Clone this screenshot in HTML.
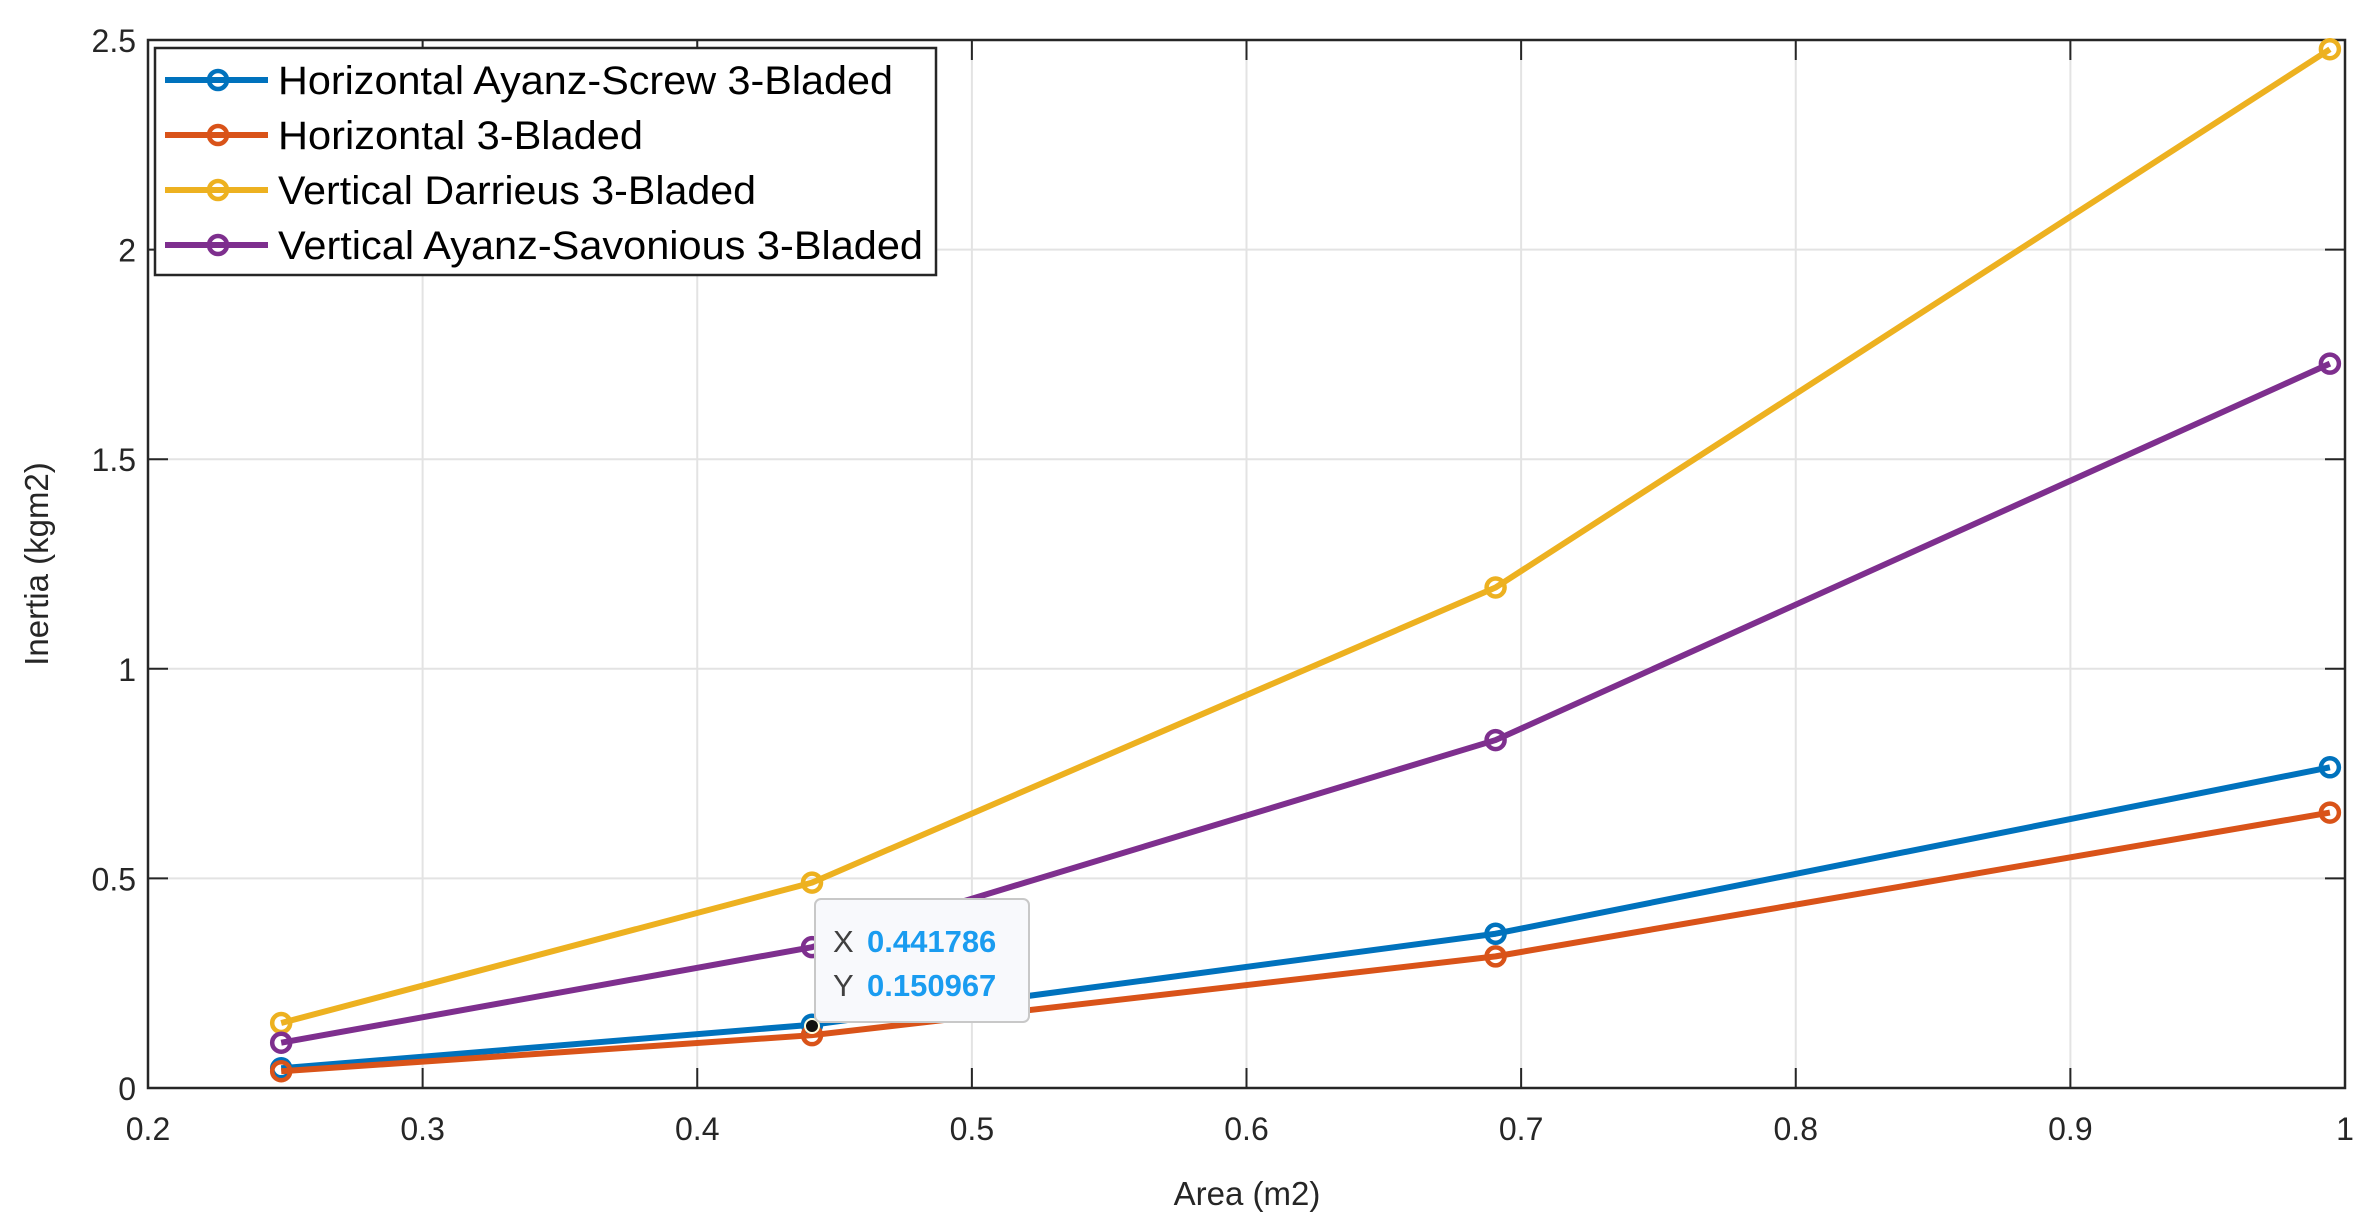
<!DOCTYPE html>
<html><head><meta charset="utf-8"><style>
body{margin:0;background:#fff}
svg{display:block;font-family:"Liberation Sans",sans-serif}
</style></head><body>
<svg id="chart" width="2368" height="1227" viewBox="0 0 2368 1227">
<rect x="0" y="0" width="2368" height="1227" fill="#fff"/>
<g id="grid"></g>
<g id="axes"></g>
<g id="series"></g>
<text x="1247" y="1205" font-size="33" fill="#262626" text-anchor="middle">Area (m2)</text>
<text transform="translate(48,564) rotate(-90)" font-size="33" fill="#262626" text-anchor="middle">Inertia (kgm2)</text>
<g id="legend"></g>
<g id="datatip">
<circle cx="812" cy="1026" r="7" fill="#111" stroke="#ffffe0" stroke-width="2"/>
<rect x="815" y="899" width="214" height="123" rx="6" fill="#f8f9fc" stroke="#c8c8c8" stroke-width="2"/>
<text x="833" y="952" font-size="31" fill="#404040">X</text>
<text x="867" y="952" font-size="31" font-weight="bold" fill="#1a9cf0">0.441786</text>
<text x="833" y="996" font-size="31" fill="#404040">Y</text>
<text x="867" y="996" font-size="31" font-weight="bold" fill="#1a9cf0">0.150967</text>
</g>
</svg>
<script>
const xValues=[0.2485,0.441786,0.6907,0.9945];
const seriesNames=["Horizontal Ayanz-Screw 3-Bladed","Horizontal 3-Bladed","Vertical Darrieus 3-Bladed","Vertical Ayanz-Savonious 3-Bladed"];
const screwVals=[0.047,0.150967,0.368,0.765];
const horizVals=[0.040,0.126,0.314,0.657];
const darrieusVals=[0.155,0.490,1.194,2.478];
const savoniusVals=[0.108,0.336,0.830,1.728];
const xTicks=[0.2,0.3,0.4,0.5,0.6,0.7,0.8,0.9,1];
const xTickLabels=["0.2","0.3","0.4","0.5","0.6","0.7","0.8","0.9","1"];
const yTicks=[0,0.5,1,1.5,2,2.5];
const yTickLabels=["0","0.5","1","1.5","2","2.5"];

const L=148,R=2345,T=40,B=1088;
const sx=v=>L+(v-0.2)/0.8*(R-L);
const sy=v=>B-(v/2.5)*(B-T);
const NS="http://www.w3.org/2000/svg";
function mk(tag,attrs,parent){const e=document.createElementNS(NS,tag);for(const k in attrs)e.setAttribute(k,attrs[k]);parent.appendChild(e);return e;}
const grid=document.getElementById('grid'),axes=document.getElementById('axes'),ser=document.getElementById('series'),leg=document.getElementById('legend');
xTicks.forEach((t,i)=>{
  const x=sx(t);
  const g=mk('line',{x1:x,x2:x,y1:T,y2:B,stroke:'#e3e3e3','stroke-width':2},grid);
  
  
  mk('line',{x1:x,x2:x,y1:B,y2:B-20,stroke:'#262626','stroke-width':2},axes);
  mk('line',{x1:x,x2:x,y1:T,y2:T+20,stroke:'#262626','stroke-width':2},axes);
  const lb=mk('text',{x:x,y:B+52,'font-size':32,fill:'#262626','text-anchor':'middle'},axes);
  lb.textContent=xTickLabels[i];
  
  
});
yTicks.forEach((t,i)=>{
  const y=sy(t);
  const g=mk('line',{x1:L,x2:R,y1:y,y2:y,stroke:'#e3e3e3','stroke-width':2},grid);
  
  
  mk('line',{x1:L,x2:L+20,y1:y,y2:y,stroke:'#262626','stroke-width':2},axes);
  mk('line',{x1:R,x2:R-20,y1:y,y2:y,stroke:'#262626','stroke-width':2},axes);
  const lb=mk('text',{x:L-12,y:y+12,'font-size':32,fill:'#262626','text-anchor':'end'},axes);
  lb.textContent=yTickLabels[i];
  
  
});
mk('rect',{x:L,y:T,width:R-L,height:B-T,fill:'none',stroke:'#262626','stroke-width':2.5},axes);
const colors=['#0072BD','#D95319','#EDB120','#7E2F8E'];
const data=[screwVals,horizVals,darrieusVals,savoniusVals];
[0,1,2,3].forEach(s=>{
  const vals=data[s];
  const pts=xValues.map((x,i)=>sx(x)+','+sy(vals[i])).join(' ');
  const pl=mk('polyline',{points:pts,fill:'none',stroke:colors[s],'stroke-width':6,'stroke-linejoin':'round'},ser);
  
  
  xValues.forEach((x,i)=>{
    const c=mk('circle',{cx:sx(x),cy:sy(vals[i]),r:9,fill:'none',stroke:colors[s],'stroke-width':4.5},ser);
    
    
  });
});
mk('rect',{x:155,y:48,width:781,height:227,fill:'#fff',stroke:'#262626','stroke-width':2.5},leg);
const legWidths=[615,365,478,645];
seriesNames.forEach((n,i)=>{
  const y=80+i*55;
  const e=mk('g',{},leg);
  
  
  mk('line',{x1:165,x2:268,y1:y,y2:y,stroke:colors[i],'stroke-width':6},e);
  mk('circle',{cx:218,cy:y,r:9,fill:'none',stroke:colors[i],'stroke-width':4.5},e);
  const t=mk('text',{x:278,y:y+14,'font-size':40,fill:'#000',textLength:legWidths[i],lengthAdjust:'spacingAndGlyphs'},e);
  t.textContent=n;
});
</script>
</body></html>
